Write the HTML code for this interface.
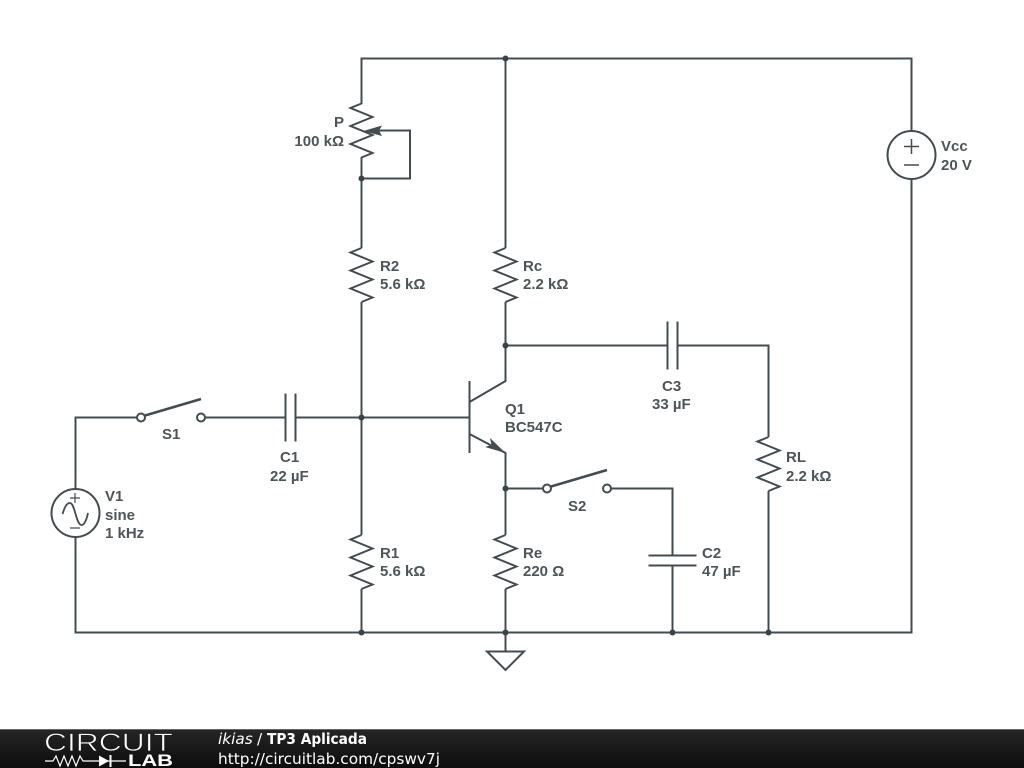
<!DOCTYPE html>
<html>
<head>
<meta charset="utf-8">
<style>
html,body{margin:0;padding:0;background:#fff;width:1024px;height:768px;overflow:hidden}
svg{position:absolute;left:0;top:0;display:block}
.w{fill:none;stroke:#434c50;stroke-width:2;stroke-linejoin:miter}
.l{font-family:"Liberation Sans",sans-serif;font-size:15px;font-weight:bold;fill:#4d5559}
.f{font-family:"DejaVu Sans",sans-serif;font-size:15.3px;fill:#fff}
</style>
</head>
<body>
<svg width="1024" height="768" viewBox="0 0 1024 768" xmlns="http://www.w3.org/2000/svg">
<defs>
<path id="r" d="M0 -27 L-11 -22.5 L11 -13.5 L-11 -4.5 L11 4.5 L-11 13.5 L11 22.5 L0 27" fill="none" stroke="#434c50" stroke-width="2"/>
<linearGradient id="fg" x1="0" y1="0" x2="0" y2="1">
<stop offset="0" stop-color="#262626"/>
<stop offset="1" stop-color="#0c0c0c"/>
</linearGradient>
</defs>
<rect width="1024" height="768" fill="#fff"/>

<!-- wires -->
<path class="w" d="M361.5 104 V58.5 H911.5 V131"/>
<path class="w" d="M505.5 58.5 V248"/>
<path class="w" d="M361.5 157 V248"/>
<path class="w" d="M361.5 302 V535"/>
<path class="w" d="M505.5 302 V381 L469.5 402"/>
<path class="w" d="M505.5 345.5 H667"/>
<path class="w" d="M677 345.5 H768.5 V437"/>
<path class="w" d="M768.5 491 V632.5"/>
<path class="w" d="M911.5 179 V632.5 H75.5 V537"/>
<path class="w" d="M75.5 489 V417.5 H137"/>
<path class="w" d="M205 417.5 H285"/>
<path class="w" d="M295 417.5 H469"/>
<path class="w" d="M361.5 589 V632"/>
<path class="w" d="M505.5 589 V651"/>
<path class="w" d="M469.5 434 L505.5 453 V535"/>
<path class="w" d="M505.5 488.5 H543"/>
<path class="w" d="M611 488.5 H672.5 V556"/>
<path class="w" d="M672.5 566 V632"/>

<!-- P feedback -->
<path class="w" d="M372 130.5 H410 V178.5 H361.5"/>
<path d="M363.5 131 L382 125.5 L379 130.5 L382 136 Z" fill="#434c50"/>

<!-- resistors -->
<use href="#r" x="361.5" y="130.5"/>
<use href="#r" x="361.5" y="275"/>
<use href="#r" x="505.5" y="275"/>
<use href="#r" x="361.5" y="562"/>
<use href="#r" x="505.5" y="562"/>
<use href="#r" x="768.5" y="464"/>

<!-- capacitors -->
<path class="w" d="M285.5 393.5 V441.5 M295.5 393.5 V441.5"/>
<path class="w" d="M667.5 321.5 V369.5 M677.5 321.5 V369.5"/>
<path class="w" d="M648.5 555.5 H696.5 M648.5 565.5 H696.5"/>

<!-- BJT -->
<path class="w" d="M469.5 381 V453"/>
<path d="M505.5 453 L485 447 L491.5 445 L490 438 Z" fill="#434c50"/>

<!-- switches -->
<circle class="w" cx="141" cy="417.5" r="4" fill="#fff"/>
<circle class="w" cx="201" cy="417.5" r="4" fill="#fff"/>
<path d="M145 415.5 L201 399" fill="none" stroke="#434c50" stroke-width="2.5"/>
<circle class="w" cx="547" cy="488.5" r="4" fill="#fff"/>
<circle class="w" cx="607" cy="488.5" r="4" fill="#fff"/>
<path d="M551 486.500 L607 470" fill="none" stroke="#434c50" stroke-width="2.5"/>

<!-- sources -->
<circle class="w" cx="75.5" cy="513" r="24"/>
<path class="w" d="M70 498 H80 M75 493 V503 M70 528 H80" style="stroke-width:1.2"/>
<path class="w" d="M62.5 514 C65 506 67 503 70 503 C75 503 76 525 81.5 525 C84.500 525 86.500 520 88 513" style="stroke-width:1.800"/>
<circle class="w" cx="911.5" cy="155" r="24"/>
<path class="w" d="M904 146.500 H919 M911.5 139 V154 M904 165 H919" style="stroke-width:1.5"/>

<!-- ground -->
<path class="w" d="M487 651.5 H524 L505.5 670 Z"/>

<!-- junctions -->
<g fill="#3a4347">
<circle cx="505.5" cy="58.5" r="3"/>
<circle cx="361.5" cy="178.5" r="3"/>
<circle cx="505.5" cy="345.5" r="3"/>
<circle cx="361.5" cy="417.5" r="3"/>
<circle cx="505.5" cy="488.5" r="3"/>
<circle cx="361.5" cy="632.5" r="3"/>
<circle cx="505.5" cy="632.5" r="3"/>
<circle cx="672.5" cy="632.5" r="3"/>
<circle cx="768.5" cy="632.5" r="3"/>
</g>

<!-- labels -->
<text class="l" x="334" y="127">P</text>
<text class="l" x="344" y="146" text-anchor="end">100 kΩ</text>
<text class="l" x="380" y="271">R2</text>
<text class="l" x="380" y="289">5.6 kΩ</text>
<text class="l" x="523" y="271">Rc</text>
<text class="l" x="523" y="289">2.2 kΩ</text>
<text class="l" x="941" y="151">Vcc</text>
<text class="l" x="941" y="170">20 V</text>
<text class="l" x="505" y="414">Q1</text>
<text class="l" x="505" y="432">BC547C</text>
<text class="l" x="662" y="391">C3</text>
<text class="l" x="652" y="409">33 µF</text>
<text class="l" x="786" y="462">RL</text>
<text class="l" x="786" y="481">2.2 kΩ</text>
<text class="l" x="162" y="439">S1</text>
<text class="l" x="280" y="462">C1</text>
<text class="l" x="270" y="481">22 µF</text>
<text class="l" x="105" y="501">V1</text>
<text class="l" x="105" y="520">sine</text>
<text class="l" x="105" y="538">1 kHz</text>
<text class="l" x="568" y="511">S2</text>
<text class="l" x="702" y="558">C2</text>
<text class="l" x="702" y="576">47 µF</text>
<text class="l" x="380" y="558">R1</text>
<text class="l" x="380" y="576">5.6 kΩ</text>
<text class="l" x="523" y="558">Re</text>
<text class="l" x="523" y="576">220 Ω</text>

<!-- footer -->
<rect x="0" y="729" width="1024" height="39" fill="url(#fg)"/>
<rect x="0" y="729" width="1024" height="1" fill="#666"/>
<text x="44" y="751" font-family="'Liberation Sans',sans-serif" font-size="25" fill="#fff" stroke="#1e1e1e" stroke-width="0.7" textLength="129" lengthAdjust="spacingAndGlyphs">CIRCUIT</text>
<path d="M45 761 H53 L56 756 L60 766 L64 756 L68 766 L72 756 L76 766 L80 756 L83 761 H126" fill="none" stroke="#fff" stroke-width="1.2"/>
<path d="M99 755.500 L109 761 L99 766.500 Z" fill="#fff"/>
<rect x="109.500" y="755" width="2" height="12" fill="#fff"/>
<text x="128" y="766" font-family="'Liberation Sans',sans-serif" font-size="16.5" font-weight="bold" fill="#fff" textLength="45" lengthAdjust="spacingAndGlyphs">LAB</text>
<text class="f" x="218" y="744" font-style="italic">ikias</text>
<text class="f" x="257" y="744">/</text>
<text class="f" x="267" y="744" font-weight="bold" textLength="100" lengthAdjust="spacingAndGlyphs">TP3 Aplicada</text>
<text class="f" x="218" y="764" textLength="222" lengthAdjust="spacingAndGlyphs">http://circuitlab.com/cpswv7j</text>
</svg>
</body>
</html>
